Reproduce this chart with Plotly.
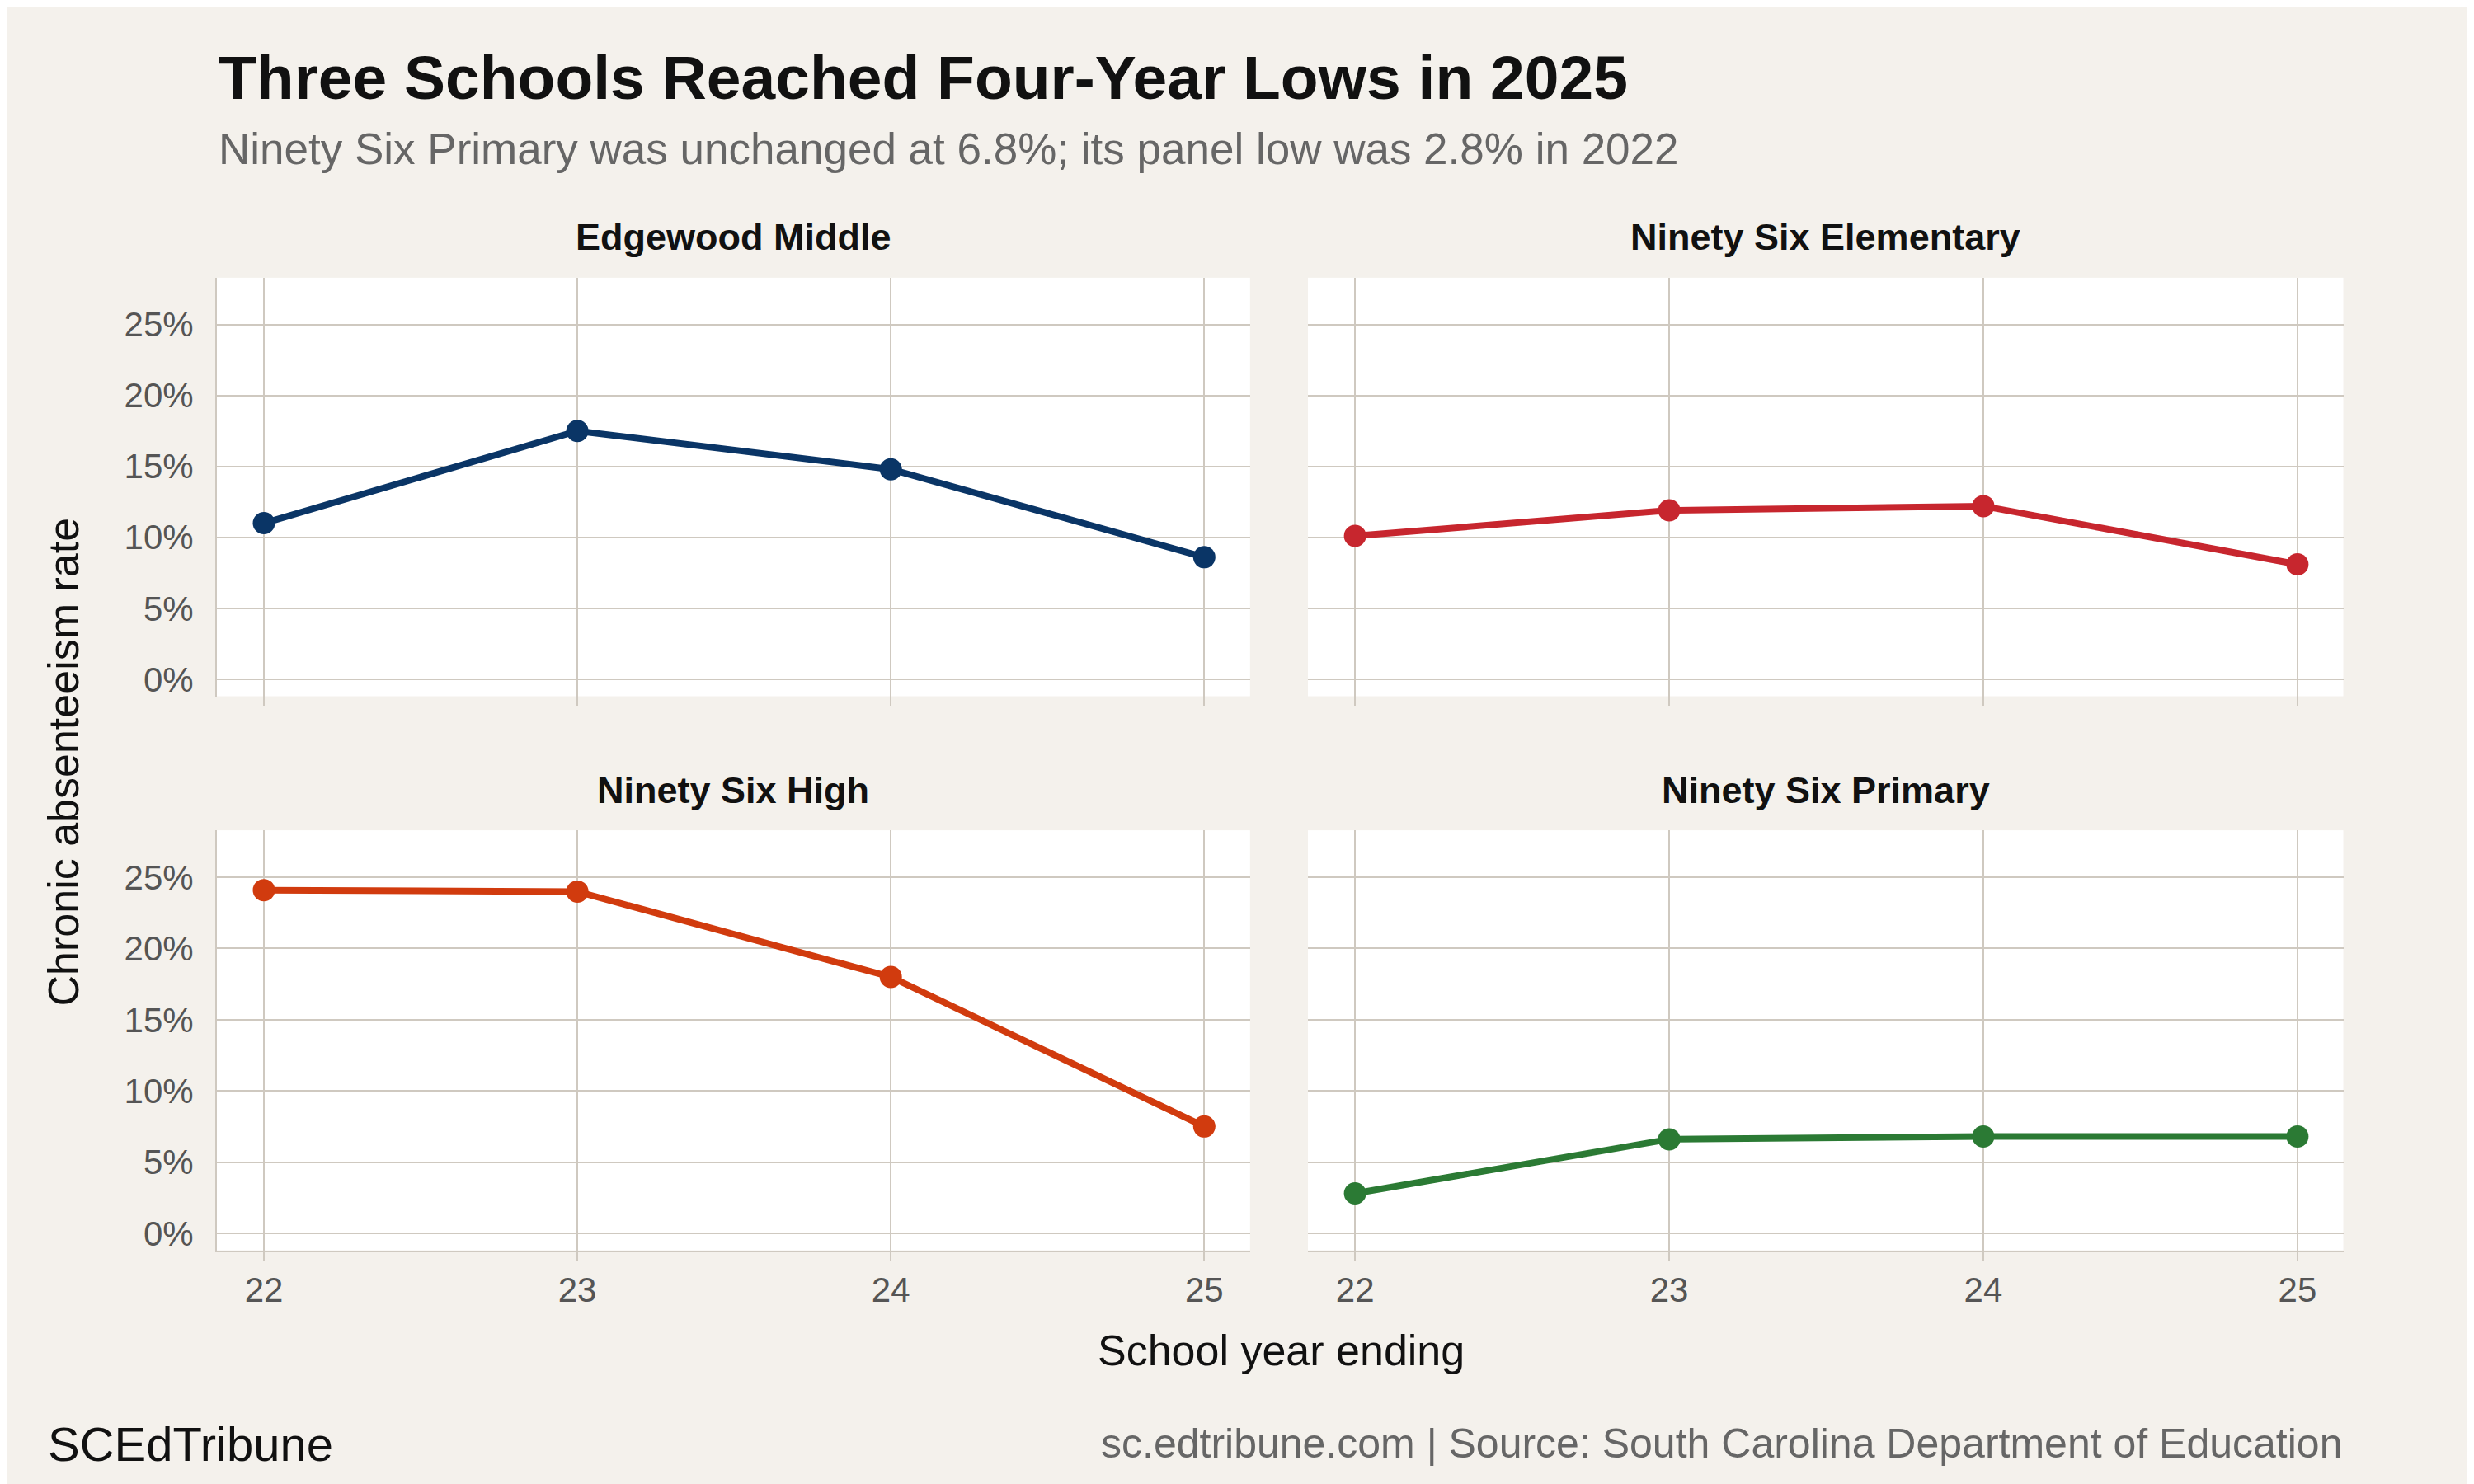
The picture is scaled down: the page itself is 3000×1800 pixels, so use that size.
import plotly.graph_objects as go

years = [22, 23, 24, 25]
schools = ["Edgewood Middle", "Ninety Six Elementary", "Ninety Six High", "Ninety Six Primary"]
edgewood = [11.0, 17.5, 14.8, 8.6]
elementary = [10.1, 11.9, 12.2, 8.1]
high = [24.1, 24.0, 18.0, 7.5]
primary = [2.8, 6.6, 6.8, 6.8]
series = [edgewood, elementary, high, primary]
colors = ["#0a3566", "#c7262e", "#d13b0e", "#2b7a34"]
yticks = [0, 5, 10, 15, 20, 25]

FONT = "Liberation Sans"
xdoms = [[0.085, 0.5026], [0.526, 0.9445], [0.085, 0.5026], [0.526, 0.9445]]
ydoms = [[0.5345, 0.817], [0.5345, 0.817], [0.1605, 0.444], [0.1605, 0.444]]

fig = go.Figure()
layout = {}
for i, (name, vals, c) in enumerate(zip(schools, series, colors)):
    n = "" if i == 0 else str(i + 1)
    fig.add_trace(go.Scatter(x=years, y=vals, mode="lines+markers",
                             line=dict(color=c, width=8), marker=dict(color=c, size=27),
                             xaxis="x" + n, yaxis="y" + n, showlegend=False))
    bottom = i >= 2
    layout["xaxis" + n] = dict(domain=xdoms[i], anchor="y" + n, range=[21.85, 25.146],
                               tickvals=years, showticklabels=bottom, showgrid=True,
                               gridcolor="#cfc9c0", gridwidth=2, ticks="outside", ticklen=10,
                               tickcolor="#cfc9c0", tickwidth=2, zeroline=False,
                               showline=bottom, linecolor="#cfc9c0", linewidth=2,
                               tickfont=dict(size=42, color="#555"))
    layout["yaxis" + n] = dict(domain=ydoms[i], anchor="x" + n, range=[-1.2, 28.3],
                               tickvals=yticks, ticktext=[f"{v}%" for v in yticks],
                               showticklabels=(i % 2 == 0), showgrid=True, gridcolor="#cfc9c0",
                               gridwidth=2, zeroline=False, ticks="", ticklabelstandoff=18,
                               showline=(i % 2 == 0), linecolor="#cfc9c0", linewidth=2,
                               tickfont=dict(size=42, color="#555"))

annotations = []
for i, name in enumerate(schools):
    annotations.append(dict(text=f"<b>{name}</b>", x=sum(xdoms[i]) / 2, y=ydoms[i][1] + 0.012,
                            xref="paper", yref="paper", xanchor="center", yanchor="bottom",
                            showarrow=False, font=dict(size=45, color="#111")))
annotations += [
    dict(text="<b>Three Schools Reached Four-Year Lows in 2025</b>", x=0.085, y=0.952,
         xref="paper", yref="paper", xanchor="left", yanchor="middle", showarrow=False,
         font=dict(size=75, color="#111")),
    dict(text="Ninety Six Primary was unchanged at 6.8%; its panel low was 2.8% in 2022",
         x=0.085, y=0.904, xref="paper", yref="paper", xanchor="left", yanchor="middle",
         showarrow=False, font=dict(size=53, color="#666")),
    dict(text="School year ending", x=0.515, y=0.093, xref="paper", yref="paper",
         xanchor="center", yanchor="middle", showarrow=False, font=dict(size=52, color="#111")),
    dict(text="Chronic absenteeism rate", x=0.023, y=0.49, xref="paper", yref="paper",
         xanchor="center", yanchor="middle", textangle=-90, showarrow=False,
         font=dict(size=52, color="#111")),
    dict(text="SCEdTribune", x=0.016, y=0.03, xref="paper", yref="paper",
         xanchor="left", yanchor="middle", showarrow=False, font=dict(size=58, color="#111")),
    dict(text="sc.edtribune.com | Source: South Carolina Department of Education", x=0.9445,
         y=0.03, xref="paper", yref="paper", xanchor="right", yanchor="middle",
         showarrow=False, font=dict(size=50, color="#666")),
]

fig.update_layout(**layout, width=3000, height=1800, paper_bgcolor="#f4f1ec",
                  plot_bgcolor="#ffffff", margin=dict(l=0, r=0, t=0, b=0),
                  font=dict(family=FONT), annotations=annotations)
fig.write_html("out.html")
